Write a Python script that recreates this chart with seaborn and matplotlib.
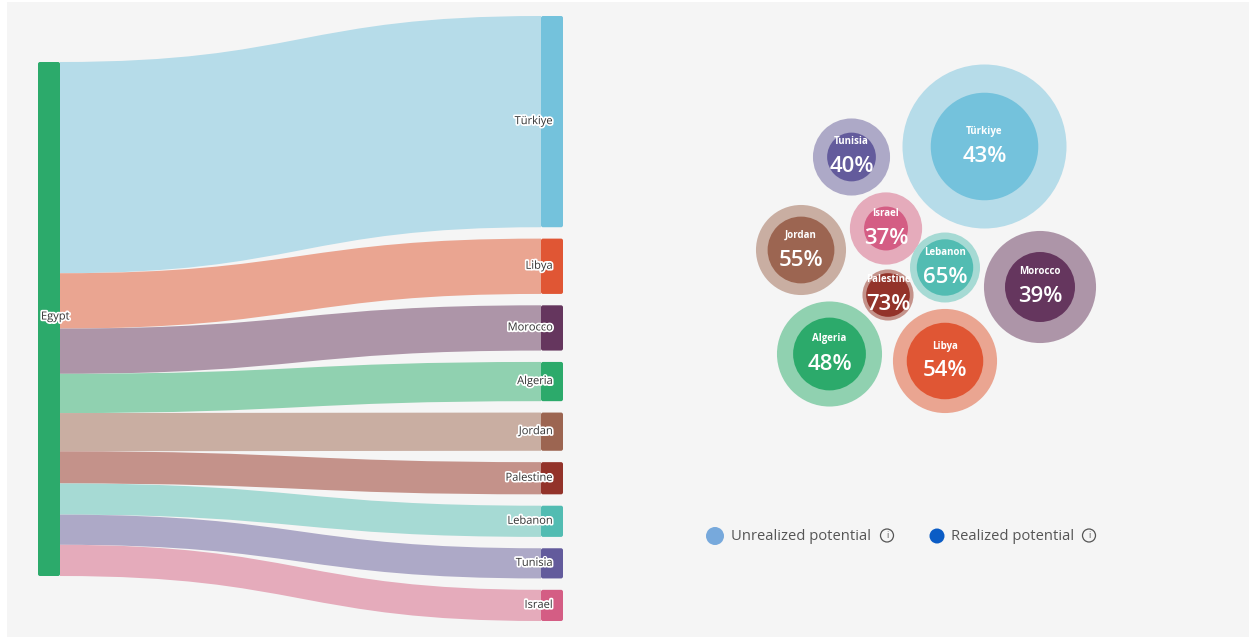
import numpy as np
import pandas as pd
import seaborn as sns
import matplotlib.pyplot as plt
from matplotlib.path import Path
from matplotlib.patches import PathPatch, Circle, FancyBboxPatch, Rectangle
import matplotlib.patheffects as pe

sns.set_theme(style="white")
plt.rcParams['font.family'] = ['Open Sans', 'DejaVu Sans']

# --- data -------------------------------------------------------------
source = "Egypt"
partners = ["Türkiye", "Libya", "Morocco", "Algeria", "Jordan",
            "Palestine", "Lebanon", "Tunisia", "Israel"]
flow_values = [210, 55, 45, 39, 38, 32, 31, 30, 31]  # Egypt -> partner

bubble_names = ["Türkiye", "Tunisia", "Israel", "Jordan", "Lebanon",
                "Palestine", "Morocco", "Algeria", "Libya"]
potential = [6.7, 1.48, 1.3, 2.02, 1.22, 0.65, 3.13, 2.75, 2.7]
realized_pct = [43, 40, 37, 55, 65, 73, 39, 48, 54]

node_colors = {"Türkiye": "#74c2dc", "Libya": "#e05634", "Morocco": "#65365e",
               "Algeria": "#2caa6b", "Jordan": "#9c6551", "Palestine": "#93332a",
               "Lebanon": "#52bcb2", "Tunisia": "#635b9c", "Israel": "#d45d84",
               "Egypt": "#2caa6b"}
light_colors = {"Türkiye": "#b6dce9", "Libya": "#eaa591", "Morocco": "#ad95a8",
                "Algeria": "#90d1b0", "Jordan": "#c9aea2", "Palestine": "#c4928a",
                "Lebanon": "#a6dad4", "Tunisia": "#ada9c7", "Israel": "#e5abbb"}

# bubble layout (packed positions, pixel space)
bubble_centers = {"Türkiye": (984.5, 146.5), "Tunisia": (851.5, 157),
                  "Israel": (886, 228.5), "Jordan": (801, 250),
                  "Lebanon": (945, 267.5), "Palestine": (888, 295),
                  "Morocco": (1040, 287), "Algeria": (829.5, 354),
                  "Libya": (945, 361)}

df = pd.DataFrame({"partner": partners, "value": flow_values})
bub = pd.DataFrame({"name": bubble_names, "potential": potential, "pct": realized_pct})

W, H = 1249, 637
fig = plt.figure(figsize=(W / 100, H / 100), dpi=100, facecolor="white")
ax = fig.add_axes([0, 0, 1, 1])
ax.set_xlim(0, W)
ax.set_ylim(H, 0)
ax.axis("off")
ax.add_patch(Rectangle((7, 2), W - 7, H - 2, facecolor="#f5f5f5", edgecolor="none", zorder=0))

# --- sankey -------------------------------------------------------------
x_src0, x_src1 = 38, 60
x_dst0, x_dst1 = 541, 563
src_top, src_h = 62, 514
dst_top, dst_bot = 16, 621

scale = src_h / df["value"].sum()
heights = df["value"] * scale
gap = (dst_bot - dst_top - heights.sum()) / (len(df) - 1)
left_y0 = src_top + np.concatenate([[0], np.cumsum(heights)[:-1]])
right_y0 = dst_top + np.concatenate([[0], np.cumsum(heights + gap)[:-1]])

xm = (x_src1 + x_dst0) / 2
for i, row in df.iterrows():
    h = heights[i]
    a, b = left_y0[i], right_y0[i]
    verts = [(x_src1, a), (xm, a), (xm, b), (x_dst0, b),
             (x_dst0, b + h),
             (xm, b + h), (xm, a + h), (x_src1, a + h),
             (x_src1, a)]
    codes = [Path.MOVETO, Path.CURVE4, Path.CURVE4, Path.CURVE4,
             Path.LINETO,
             Path.CURVE4, Path.CURVE4, Path.CURVE4,
             Path.CLOSEPOLY]
    ax.add_patch(PathPatch(Path(verts, codes), facecolor=light_colors[row.partner],
                           edgecolor="none", zorder=2))

halo = [pe.withStroke(linewidth=2.5, foreground="white")]
ax.add_patch(FancyBboxPatch((x_src0, src_top), x_src1 - x_src0, src_h,
                            boxstyle="round,pad=0,rounding_size=2",
                            facecolor=node_colors[source], edgecolor="none", zorder=3))
ax.text(x_src0 + 3, src_top + src_h / 2 - 2, source, fontsize=8, color="#333333",
        ha="left", va="center", path_effects=halo, zorder=5)

for i, row in df.iterrows():
    ax.add_patch(FancyBboxPatch((x_dst0, right_y0[i]), x_dst1 - x_dst0, heights[i],
                                boxstyle="round,pad=0,rounding_size=2",
                                facecolor=node_colors[row.partner], edgecolor="none", zorder=3))
    ax.text(x_dst1 - 10, right_y0[i] + heights[i] / 2, row.partner, fontsize=8,
            color="#333333", ha="right", va="center", path_effects=halo, zorder=5)

# --- bubbles ------------------------------------------------------------
r_scale = 82 / np.sqrt(bub["potential"].max())
for _, row in bub.iterrows():
    cx, cy = bubble_centers[row["name"]]
    r_out = r_scale * np.sqrt(row["potential"])
    r_in = r_out * np.sqrt(row["pct"] / 100)
    ax.add_patch(Circle((cx, cy), r_out, facecolor=light_colors[row["name"]],
                        edgecolor="none", zorder=2))
    ax.add_patch(Circle((cx, cy), r_in, facecolor=node_colors[row["name"]],
                        edgecolor="none", zorder=3))
    ax.text(cx, cy - 15, row["name"], fontsize=7, fontweight="bold", color="white",
            ha="center", va="center", zorder=4)
    ax.text(cx, cy + 10, f"{row['pct']}%", fontsize=16, fontweight="semibold",
            color="white", ha="center", va="center", zorder=4)

# --- legend ---------------------------------------------------------------
legend_items = [("Unrealized potential", "#77a9dc", 9, 715, 731, 887),
                ("Realized potential", "#0b5cc5", 7.5, 937, 951, 1089)]
for label, col, rad, mx, tx, ix in legend_items:
    ax.add_patch(Circle((mx, 536), rad, facecolor=col, edgecolor="none", zorder=3))
    ax.text(tx, 536, label, fontsize=10.6, color="#555555", ha="left", va="center")
    ax.add_patch(Circle((ix, 535.5), 6.5, facecolor="none", edgecolor="#555555",
                        linewidth=0.9, zorder=3))
    ax.text(ix, 536, "i", fontsize=6.5, color="#555555", ha="center", va="center")

fig.savefig("out.png", dpi=100, facecolor="white")
